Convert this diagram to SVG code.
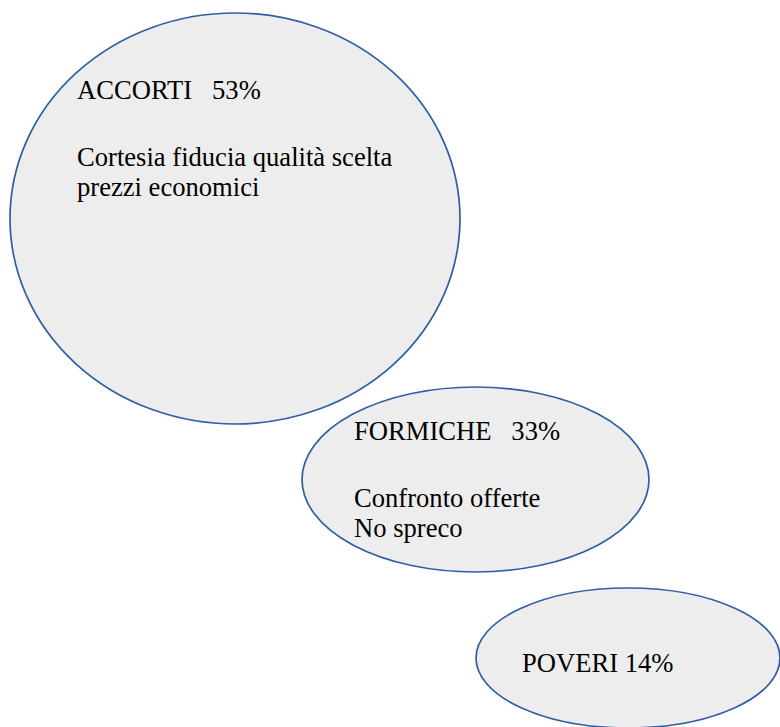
<svg xmlns="http://www.w3.org/2000/svg" width="780" height="727" viewBox="0 0 780 727">
<style>
.n{fill:#EDEDED;stroke:#2F5FA2;stroke-width:1.7}
.t{font-family:"Liberation Serif","Times New Roman",serif;font-size:26.6px;fill:#000;white-space:pre}
</style>
<rect width="780" height="727" fill="#fff"/>
<g id="accorti">
<ellipse class="n" cx="235" cy="218.5" rx="225" ry="205.5"/>
<text class="t" x="77" y="99" xml:space="preserve">ACCORTI   53%</text>
<text class="t" x="77" y="166">Cortesia fiducia qualità scelta</text>
<text class="t" x="77" y="196">prezzi economici</text>
</g>
<g id="formiche">
<ellipse class="n" cx="475.5" cy="479.5" rx="173.5" ry="92.5"/>
<text class="t" x="354" y="440" xml:space="preserve">FORMICHE   33%</text>
<text class="t" x="354" y="507">Confronto offerte</text>
<text class="t" x="354" y="537">No spreco</text>
</g>
<g id="poveri">
<ellipse class="n" cx="628" cy="658" rx="152" ry="70"/>
<text class="t" x="522" y="672">POVERI 14%</text>
</g>
<g id="connectors"/>
</svg>
